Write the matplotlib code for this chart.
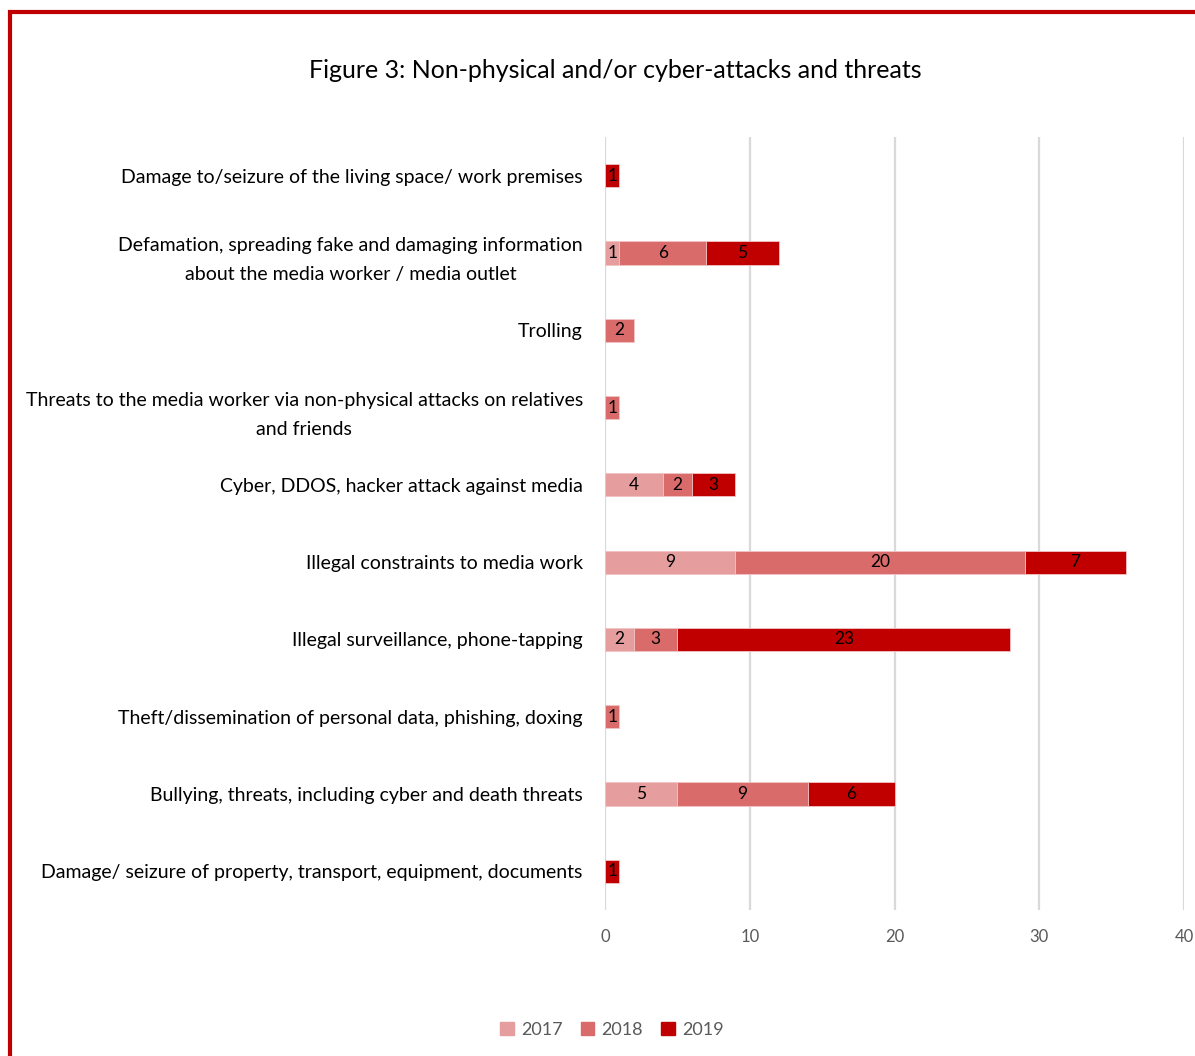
import matplotlib
matplotlib.use('Agg')
import matplotlib.pyplot as plt
import matplotlib.patches as mpatches
import numpy as np

plt.rcParams['font.family'] = ['Lato', 'DejaVu Sans']

# categories listed top to bottom
categories = [
    "Damage to/seizure of the living space/ work premises",
    "Defamation, spreading fake and damaging information\nabout the media worker / media outlet",
    "Trolling",
    "Threats to the media worker via non-physical attacks on relatives\nand friends",
    "Cyber, DDOS, hacker attack against media",
    "Illegal constraints to media work",
    "Illegal surveillance, phone-tapping",
    "Theft/dissemination of personal data, phishing, doxing",
    "Bullying, threats, including cyber and death threats",
    "Damage/ seizure of property, transport, equipment, documents",
]
v2017 = [0, 1, 0, 0, 4, 9, 2, 0, 5, 0]
v2018 = [0, 6, 2, 1, 2, 20, 3, 1, 9, 0]
v2019 = [1, 5, 0, 0, 3, 7, 23, 0, 6, 1]
years = ["2017", "2018", "2019"]
colors = ["#E69D9D", "#D96B6B", "#C00000"]

fig = plt.figure(figsize=(11.95, 10.56), dpi=100)
ax = fig.add_axes([605/1195, 146/1056, 579/1195, 773/1056])

y = np.arange(len(categories))[::-1]
left = np.zeros(len(categories))
for vals, year, col in zip([v2017, v2018, v2019], years, colors):
    vals = np.array(vals, dtype=float)
    bars = ax.barh(y, vals, left=left, height=0.3, color=col, label=year,
                   edgecolor='#F2C4C4', linewidth=0.6, zorder=3)
    for b, v in zip(bars, vals):
        if v > 0:
            ax.text(b.get_x() + b.get_width()/2, b.get_y() + b.get_height()/2,
                    f"{int(v)}", ha='center', va='center', fontsize=12.5,
                    color='black', zorder=4)
    left += vals

ax.set_xlim(0, 40)
ax.set_ylim(-0.5, len(categories) - 0.5)
ax.set_xticks([0, 10, 20, 30, 40])
ax.set_yticks(y)
ax.set_yticklabels(categories, fontsize=14, multialignment='center',
                   linespacing=1.85)
ax.grid(axis='x', color='#D9D9D9', linewidth=1.6, zorder=0)
ax.set_axisbelow(True)
for key, spine in ax.spines.items():
    spine.set_visible(False)
ax.tick_params(axis='both', length=0)
ax.tick_params(axis='y', pad=16, colors='black')
ax.tick_params(axis='x', pad=14, labelsize=12, labelcolor='#595959')

fig.text(615/1195, 1 - 70/1056, "Figure 3: Non-physical and/or cyber-attacks and threats",
         ha='center', va='center', fontsize=18, color='black')

handles = [mpatches.Patch(color=c, label=yr) for c, yr in zip(colors, years)]
fig.legend(handles=handles, loc='center', bbox_to_anchor=(612/1195, 1 - 1030/1056),
           ncol=3, frameon=False, fontsize=13, labelcolor='#595959',
           handlelength=0.75, handleheight=0.75, handletextpad=0.4, columnspacing=1.0)

# red frame around the figure (right and bottom sides run off the canvas)
frame = mpatches.Rectangle((10/1195, -0.2), 1.5, 1 - 12/1056 + 0.2,
                           transform=fig.transFigure, fill=False,
                           edgecolor='#C00000', linewidth=3, clip_on=False)
fig.add_artist(frame)

fig.savefig('out.png', dpi=100)
